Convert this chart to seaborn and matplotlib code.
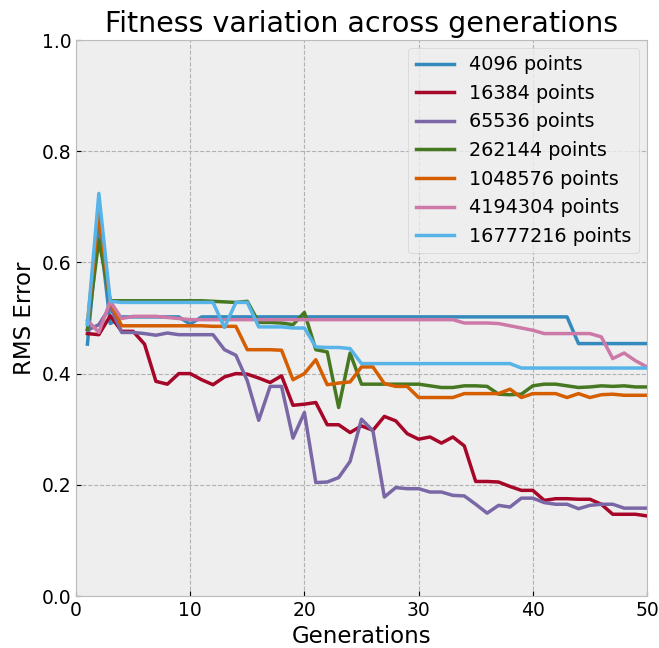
import matplotlib
matplotlib.use("Agg")
import matplotlib.pyplot as plt
import seaborn as sns
import pandas as pd
import numpy as np

generations = list(range(1, 51))

labels = ["4096 points", "16384 points", "65536 points", "262144 points",
          "1048576 points", "4194304 points", "16777216 points"]

s4096 = [0.453, 0.670, 0.490, 0.502, 0.502, 0.502, 0.502, 0.502, 0.502, 0.489,
         0.502, 0.502, 0.502, 0.502, 0.502, 0.502, 0.502, 0.502, 0.502, 0.502,
         0.502, 0.502, 0.502, 0.502, 0.502, 0.502, 0.502, 0.502, 0.502, 0.502,
         0.502, 0.502, 0.502, 0.502, 0.502, 0.502, 0.502, 0.502, 0.502, 0.502,
         0.502, 0.502, 0.502, 0.454, 0.454, 0.454, 0.454, 0.454, 0.454, 0.454]

s16384 = [0.472, 0.470, 0.504, 0.476, 0.476, 0.453, 0.386, 0.381, 0.400, 0.400,
          0.389, 0.380, 0.394, 0.400, 0.399, 0.392, 0.384, 0.396, 0.343, 0.345,
          0.348, 0.308, 0.308, 0.294, 0.306, 0.298, 0.323, 0.315, 0.292, 0.282,
          0.286, 0.275, 0.286, 0.270, 0.206, 0.206, 0.205, 0.197, 0.190, 0.190,
          0.172, 0.175, 0.175, 0.174, 0.174, 0.165, 0.147, 0.147, 0.147, 0.144]

s65536 = [0.478, 0.488, 0.520, 0.474, 0.474, 0.472, 0.469, 0.473, 0.470, 0.470,
          0.470, 0.470, 0.443, 0.433, 0.387, 0.316, 0.377, 0.377, 0.284, 0.330,
          0.204, 0.205, 0.213, 0.242, 0.318, 0.297, 0.178, 0.195, 0.193, 0.193,
          0.187, 0.187, 0.181, 0.180, 0.165, 0.149, 0.163, 0.160, 0.176, 0.176,
          0.168, 0.165, 0.165, 0.157, 0.163, 0.165, 0.165, 0.158, 0.158, 0.158]

s262144 = [0.480, 0.640, 0.531, 0.531, 0.531, 0.531, 0.531, 0.531, 0.531, 0.531,
           0.531, 0.530, 0.529, 0.528, 0.530, 0.492, 0.492, 0.491, 0.488, 0.510,
           0.443, 0.439, 0.339, 0.437, 0.381, 0.381, 0.381, 0.381, 0.381, 0.381,
           0.378, 0.375, 0.375, 0.378, 0.378, 0.377, 0.363, 0.362, 0.363, 0.378,
           0.381, 0.381, 0.378, 0.375, 0.376, 0.378, 0.377, 0.378, 0.376, 0.376]

s1048576 = [0.490, 0.691, 0.527, 0.486, 0.486, 0.486, 0.486, 0.486, 0.486, 0.486,
            0.486, 0.485, 0.485, 0.485, 0.443, 0.443, 0.443, 0.442, 0.389, 0.400,
            0.425, 0.380, 0.383, 0.385, 0.412, 0.412, 0.382, 0.377, 0.377, 0.357,
            0.357, 0.357, 0.357, 0.364, 0.364, 0.364, 0.364, 0.372, 0.357, 0.364,
            0.364, 0.364, 0.357, 0.364, 0.357, 0.362, 0.363, 0.361, 0.361, 0.361]

s4194304 = [0.496, 0.474, 0.530, 0.499, 0.503, 0.503, 0.503, 0.501, 0.499, 0.497,
            0.497, 0.497, 0.497, 0.497, 0.497, 0.497, 0.497, 0.497, 0.497, 0.497,
            0.497, 0.497, 0.497, 0.497, 0.497, 0.497, 0.497, 0.497, 0.497, 0.497,
            0.497, 0.497, 0.497, 0.491, 0.491, 0.491, 0.490, 0.486, 0.482, 0.478,
            0.472, 0.472, 0.472, 0.472, 0.472, 0.466, 0.427, 0.437, 0.423, 0.412]

s16777216 = [0.488, 0.724, 0.530, 0.528, 0.528, 0.528, 0.528, 0.528, 0.528, 0.528,
             0.528, 0.528, 0.483, 0.528, 0.528, 0.484, 0.484, 0.484, 0.482, 0.482,
             0.448, 0.447, 0.447, 0.445, 0.418, 0.418, 0.418, 0.418, 0.418, 0.418,
             0.418, 0.418, 0.418, 0.418, 0.418, 0.418, 0.418, 0.418, 0.410, 0.410,
             0.410, 0.410, 0.410, 0.410, 0.410, 0.410, 0.410, 0.410, 0.410, 0.410]

series = [s4096, s16384, s65536, s262144, s1048576, s4194304, s16777216]

colors = ["#348ABD", "#A60628", "#7A68A6", "#467821", "#D55E00", "#CC79A7", "#56B4E9"]

rows = []
for lab, vals in zip(labels, series):
    for g, v in zip(generations, vals):
        rows.append({"Generations": g, "RMS Error": v, "series": lab})
df = pd.DataFrame(rows)

plt.style.use("bmh")
fig = plt.figure(figsize=(6.59, 6.48), dpi=100)
ax = fig.add_axes([76/659, 1 - 596/648, (647 - 76)/659, (596 - 40)/648])

sns.lineplot(data=df, x="Generations", y="RMS Error", hue="series",
             hue_order=labels, palette=colors, linewidth=2.5, ax=ax,
             estimator=None, sort=False)

ax.set_xlim(0, 50)
ax.set_ylim(0, 1.0)
ax.set_xticks([0, 10, 20, 30, 40, 50])
ax.set_yticks([0.0, 0.2, 0.4, 0.6, 0.8, 1.0])
ax.grid(True, linestyle="--", color="#b2b2b2", linewidth=0.8)
ax.tick_params(labelsize=13.5)
ax.set_xlabel("Generations", fontsize=16.5)
ax.set_ylabel("RMS Error", fontsize=16.5)
ax.set_title("Fitness variation across generations", fontsize=20.5)

handles, labs = ax.get_legend_handles_labels()
ax.legend(handles, labs, loc="upper right", fontsize=13.8, borderaxespad=0.4)

fig.savefig("out.png", dpi=100)
